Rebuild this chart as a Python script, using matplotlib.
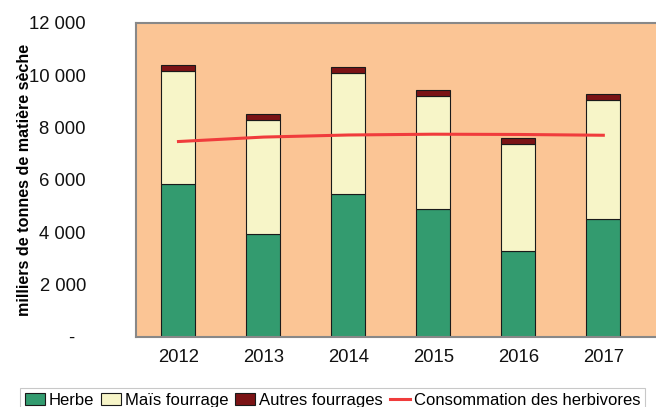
import numpy as np
import matplotlib
matplotlib.use("Agg")
import matplotlib.pyplot as plt

plt.rcParams['font.family'] = ['Liberation Sans', 'DejaVu Sans']

years = ["2012", "2013", "2014", "2015", "2016", "2017"]
herbe = [5850, 3930, 5450, 4890, 3280, 4520]
mais = [4300, 4350, 4620, 4310, 4080, 4520]
autres = [240, 240, 240, 240, 230, 250]
conso = [7470, 7640, 7720, 7750, 7740, 7710]

x = np.arange(len(years))
w = 0.4

fig = plt.figure(figsize=(6.56, 4.07), dpi=100)
ax = fig.add_axes([0.2073, 0.172, 0.7927, 0.7715])
ax.set_facecolor("#FBC595")

b1 = ax.bar(x, herbe, w, color="#339B6F", edgecolor="#1a1a1a", linewidth=0.8, label="Herbe")
b2 = ax.bar(x, mais, w, bottom=herbe, color="#F7F5C8", edgecolor="#1a1a1a", linewidth=0.8, label="Maïs fourrage")
bot = np.array(herbe) + np.array(mais)
b3 = ax.bar(x, autres, w, bottom=bot, color="#7B1315", edgecolor="#1a1a1a", linewidth=0.8, label="Autres fourrages")
ln, = ax.plot(x, conso, color="#F03C3C", linewidth=2.2, label="Consommation des herbivores")

ax.set_xlim(-0.5, 5.62)
ax.set_ylim(0, 12000)
yt = np.arange(0, 12001, 2000)
ax.set_yticks(yt)
ax.set_yticklabels(["-  "] + ["{:,}".format(v).replace(",", " ") for v in yt[1:]])
ax.set_xticks(x)
ax.set_xticklabels(years)
ax.tick_params(axis="both", length=0, labelsize=13.3, colors="#111111")
ax.tick_params(axis="y", pad=36)
ax.tick_params(axis="x", pad=9)

for s in ["left", "top", "bottom"]:
    ax.spines[s].set_color("#888888")
    ax.spines[s].set_linewidth(1.5)
ax.spines["right"].set_visible(False)

ax.set_ylabel("milliers de tonnes de matière sèche", fontsize=11.6, fontweight="bold")
ax.yaxis.set_label_coords(-0.2, 0.5)

leg = fig.legend(handles=[b1, b2, b3, ln], loc="lower center", bbox_to_anchor=(0.507, -0.035),
                 ncol=4, frameon=True, fancybox=False, fontsize=12, handlelength=1.2,
                 handletextpad=0.25, columnspacing=0.4, borderpad=0.3)
leg.get_frame().set_edgecolor("#bbbbbb")
leg.get_frame().set_linewidth(0.8)

fig.savefig("out.png", dpi=100)
